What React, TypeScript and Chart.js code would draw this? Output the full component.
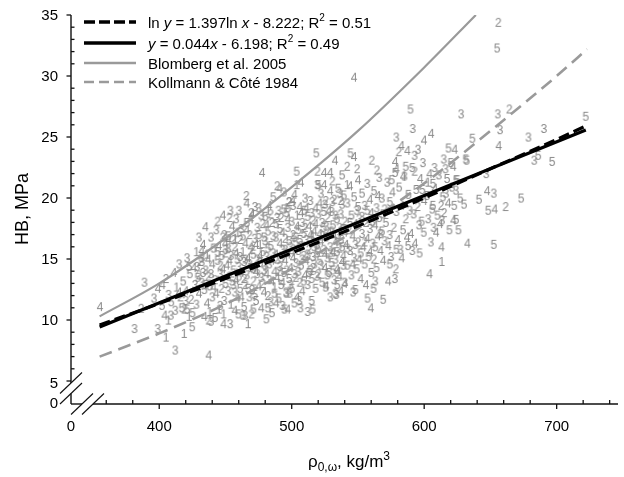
import React, { useEffect, useRef } from 'react';
import { Chart, registerables } from 'chart.js';
Chart.register(...registerables);

// axis ranges (the left/bottom ends are the broken-axis origins labelled "0")
const X_MIN = 333.4;
const X_MAX = 746.3;
const Y_MIN = 3.115;
const Y_MAX = 35;

const xMajorTicks = [400, 500, 600, 700];
const xMinorTicks = [360, 380, 420, 440, 460, 480, 520, 540, 560, 580, 620, 640, 660, 680, 720, 740];
const yMajorTicks = [5, 10, 15, 20, 25, 30, 35];
const yMinorTicks = [6, 7, 8, 9, 11, 12, 13, 14, 16, 17, 18, 19, 21, 22, 23, 24, 26, 27, 28, 29, 31, 32, 33, 34];

// fitted / literature curves
const powerFitX = [355, 400, 450, 500, 550, 600, 650, 700, 722];
const powerFitY = [9.6, 11.35, 13.4, 15.5, 17.7, 20.0, 22.4, 24.8, 25.9];
const linearFitX = [355, 722];
const linearFitY = [9.42, 25.57];
const blombergX = [355, 400, 450, 500, 550, 600, 639];
const blombergY = [10.3, 13.0, 16.7, 20.9, 25.5, 30.7, 35.0];
const kollmannX = [355, 400, 450, 500, 550, 600, 650, 700, 723];
const kollmannY = [7.0, 8.9, 11.3, 14.2, 17.5, 21.2, 25.5, 30.0, 32.2];

// measured samples: [density, hardness, sample class shown as digit]
const outlierSamples: [number, number, number][] = [
  [655.9, 34.4, 2], [655, 32.3, 5], [547, 29.9, 4],
  [589.6, 27.3, 5], [627.8, 26.9, 3], [655.5, 26.9, 3], [664.2, 27.3, 2], [721.9, 26.7, 5],
  [657.2, 25.6, 3], [591.3, 25.7, 3], [578.9, 25.0, 3], [605.2, 25.3, 4], [599.8, 24.75, 4], [636.3, 24.9, 5], [656.2, 24.3, 4], [678.6, 25.0, 3], [690.3, 25.7, 3],
  [618.3, 24.1, 5], [623, 24.0, 4], [614.7, 23.2, 3], [631.3, 23.2, 5], [632, 23.1, 5], [683, 23.1, 3], [686, 23.5, 5], [696.5, 23.0, 5], [646.8, 22.0, 3],
  [544.3, 23.7, 5], [547, 23.4, 4], [560.4, 23.1, 2], [579.1, 22.4, 4], [541.8, 22.6, 2], [564.2, 22.3, 2], [584.1, 21.8, 4], [592.7, 22.2, 2], [607.7, 22.5, 3], [621.9, 22.6, 4], [617.2, 21.6, 5], [625, 21.5, 5],
  [582.8, 24.3, 4], [580.8, 23.8, 2], [587.3, 23.9, 4], [595.3, 24.0, 3], [592.7, 23.5, 3], [549.3, 22.4, 2], [575.4, 21.5, 5], [602.7, 21.3, 1], [606.5, 21.2, 5], [598.5, 20.7, 5], [623.9, 20.65, 3], [616.4, 20.4, 3],
  [647.5, 20.6, 4], [652.5, 20.4, 3], [641.3, 19.9, 5], [648.3, 19.0, 5], [653.2, 19.1, 4], [661.4, 19.3, 2], [673.1, 20.0, 5], [627.1, 20.0, 5], [622.6, 19.4, 5], [630, 19.5, 5], [623.9, 18.25, 5], [606.5, 19.4, 5], [612.7, 19.4, 2],
  [632.6, 16.3, 4], [652.5, 16.2, 5], [613.2, 14.8, 1], [604, 13.8, 4], [596.5, 15.5, 5], [587.8, 16.1, 5], [578.5, 14.2, 2], [577.8, 13.4, 3], [572.8, 13.2, 4], [561.7, 12.6, 5], [557.2, 11.8, 5], [569, 11.7, 5], [559.7, 11.0, 4], [546.3, 12.3, 3], [579, 15.8, 5], [573.9, 17.0, 3], [625.8, 17.4, 5], [613.4, 18.2, 3], [599.6, 17.2, 5], [609, 17.2, 4],
  [533, 12.2, 3], [525.6, 12.7, 5], [534.3, 12.9, 5], [540, 13.0, 4], [533.6, 12.1, 3],
  [518.5, 23.7, 5], [532.6, 23.1, 4], [477.6, 22.1, 4], [503.7, 22.2, 5], [519.4, 22.2, 2], [524.4, 22.1, 4], [529, 22.1, 4], [530.6, 21.4, 2], [465.7, 20.2, 2], [490.8, 20.8, 4], [503.7, 21.1, 1], [519.4, 21.1, 3], [524.4, 21.1, 4], [453.7, 19.0, 3], [472.2, 19.3, 3], [469.4, 18.8, 2], [452.2, 16.6, 4], [457.2, 16.7, 1], [449.8, 15.5, 2],
  [482, 19.0, 1], [497, 19.2, 5], [509.5, 19.0, 5], [498, 19.7, 2], [500.7, 19.8, 4], [525.6, 19.8, 2], [530.6, 19.7, 3], [536.2, 20.4, 3], [539.2, 20.25, 5], [541.8, 21.1, 1], [538, 21.9, 5],
  [434.8, 17.65, 4], [429.9, 16.8, 3], [449.8, 16.3, 4], [422.4, 14.4, 5], [428.4, 14.4, 3], [432, 14.8, 3], [429.9, 13.7, 2], [432, 15.1, 3], [388.8, 13.1, 3], [402.4, 12.9, 4], [355.2, 11.1, 4], [386.3, 10.96, 2], [414.9, 12.3, 4], [419.9, 11.6, 3], [417, 11.0, 5], [421, 10.9, 5], [408.7, 10.4, 3], [406.8, 10.0, 1], [381.3, 9.3, 3], [398.8, 9.3, 3], [405, 8.6, 1], [418.7, 8.9, 1], [424.8, 9.45, 5], [412, 7.54, 3], [437.3, 7.13, 4], [422.4, 10.3, 1], [437.3, 10.0, 2], [448.5, 9.7, 4], [453.5, 9.7, 3], [448.5, 10.5, 1], [467, 9.7, 1], [464.7, 10.4, 3], [459.7, 10.5, 5], [469.6, 10.5, 2], [480.8, 10.1, 5], [482, 11.0, 5], [494.5, 10.9, 5], [506.5, 11.0, 3], [515.7, 10.9, 5], [488.3, 11.4, 4], [495.7, 12.3, 3], [498.3, 12.2, 3], [505.7, 11.6, 3],
];

const coreSamples: [number, number, number][] = [
  [396, 11.8, 3], [399, 12.6, 4], [402, 11.2, 5], [405, 13.4, 2], [407, 12.1, 3], [409, 11.5, 5], [411, 13.9, 4], [413, 12.7, 1], [415, 14.6, 3], [416, 11.9, 2], [418, 13.2, 5], [420, 12.4, 4], [421, 15.1, 3], [423, 13.8, 5], [424, 11.7, 2], [426, 14.3, 4], [427, 12.9, 3], [428, 15.6, 1], [429, 13.5, 5], [430, 12.2, 4], [412, 10.8, 3], [419, 10.9, 2], [425, 10.6, 5], [404, 10.4, 4], [428, 11.3, 3],
  [431, 14.8, 2], [432, 13.1, 3], [433, 16.2, 4], [434, 12.5, 5], [435, 14.1, 3], [436, 15.4, 1], [436, 11.4, 4], [437, 13.6, 2], [438, 12.8, 5], [439, 16.8, 3], [440, 14.6, 4], [440, 11.9, 3], [441, 15.9, 5], [442, 13.3, 2], [443, 12.2, 4], [443, 17.4, 3], [444, 14.9, 5], [445, 10.9, 1], [445, 16.1, 4], [446, 13.8, 3], [447, 12.6, 2], [447, 15.3, 5], [448, 14.2, 4], [449, 11.6, 3], [449, 17.0, 2], [450, 13.0, 5], [450, 15.8, 3], [434, 10.3, 4], [438, 10.7, 1], [442, 10.2, 5], [446, 11.2, 3], [432, 15.7, 4], [444, 18.1, 2], [448, 18.6, 4], [439, 9.9, 3],
  [451, 14.5, 4], [452, 12.4, 3], [452, 16.9, 5], [453, 13.6, 2], [454, 15.3, 3], [454, 11.3, 1], [455, 17.7, 4], [456, 14.1, 5], [456, 12.9, 3], [457, 16.0, 2], [458, 13.3, 4], [458, 18.3, 3], [459, 15.0, 5], [459, 11.8, 4], [460, 14.4, 3], [461, 16.6, 2], [461, 12.6, 5], [462, 13.9, 4], [462, 17.5, 3], [463, 15.6, 1], [464, 11.1, 5], [464, 14.8, 3], [465, 16.3, 4], [465, 12.9, 2], [466, 18.0, 5], [466, 13.7, 3], [467, 15.1, 4], [468, 11.9, 3], [468, 17.0, 2], [469, 14.3, 5], [469, 16.0, 4], [470, 12.5, 3], [470, 18.7, 4], [471, 15.4, 5], [471, 13.2, 2], [472, 16.7, 3], [473, 14.0, 4], [473, 11.6, 5], [474, 17.6, 3], [474, 15.0, 2], [475, 12.8, 4], [475, 19.2, 3], [476, 14.7, 5], [476, 16.2, 1], [477, 13.5, 3], [477, 11.0, 4], [478, 17.9, 2], [478, 15.6, 5], [479, 14.1, 3], [479, 12.3, 4], [480, 16.5, 3], [480, 18.5, 5], [457, 10.8, 4], [463, 10.4, 3], [471, 10.9, 5], [466, 19.6, 4], [453, 18.4, 2], [460, 19.0, 3],
  [481, 13.8, 4], [481, 15.2, 3], [482, 17.3, 5], [482, 12.0, 2], [483, 14.6, 3], [483, 19.4, 4], [484, 16.1, 5], [484, 11.5, 3], [485, 13.2, 4], [485, 18.0, 2], [486, 15.5, 3], [486, 20.1, 5], [487, 14.0, 4], [487, 12.7, 1], [488, 16.8, 3], [488, 17.9, 5], [489, 15.0, 2], [489, 13.5, 4], [490, 19.0, 3], [490, 11.8, 5], [491, 16.3, 4], [491, 14.4, 3], [492, 18.4, 2], [492, 12.9, 5], [493, 15.8, 3], [493, 17.2, 4], [494, 13.9, 5], [494, 20.5, 3], [495, 16.7, 2], [495, 14.9, 4], [496, 12.2, 3], [496, 18.8, 5], [497, 15.4, 4], [497, 17.6, 3], [498, 13.4, 5], [498, 19.7, 2], [499, 16.0, 3], [499, 14.3, 4], [500, 12.6, 5], [500, 18.1, 3], [501, 15.1, 4], [501, 17.0, 2], [502, 13.8, 3], [502, 20.3, 4], [503, 16.4, 5], [503, 14.7, 3], [504, 11.9, 4], [504, 18.6, 1], [505, 15.7, 3], [505, 17.4, 5], [506, 13.1, 2], [506, 19.3, 4], [507, 16.1, 3], [507, 14.5, 5], [508, 12.4, 4], [508, 18.0, 3], [509, 15.3, 2], [509, 17.1, 5], [510, 13.7, 4], [510, 20.0, 3], [485, 10.6, 5], [497, 10.9, 4], [489, 21.0, 2], [507, 21.3, 4], [493, 11.2, 3], [502, 11.4, 5],
  [511, 16.6, 3], [511, 14.9, 4], [512, 18.5, 5], [512, 12.9, 3], [513, 15.8, 2], [513, 17.7, 4], [514, 14.1, 5], [514, 19.8, 3], [515, 16.9, 4], [515, 13.4, 5], [516, 15.2, 3], [516, 18.2, 2], [517, 17.3, 4], [517, 14.6, 3], [518, 12.6, 5], [518, 19.2, 4], [519, 16.2, 3], [519, 15.5, 5], [520, 13.8, 2], [520, 18.7, 3], [521, 17.1, 4], [521, 14.9, 5], [522, 20.4, 3], [522, 16.5, 4], [523, 13.1, 5], [523, 18.0, 3], [524, 15.8, 2], [524, 17.6, 5], [525, 14.3, 4], [525, 19.5, 3], [526, 16.8, 5], [526, 12.8, 4], [527, 15.1, 3], [527, 18.4, 2], [528, 17.2, 4], [528, 13.9, 5], [529, 16.0, 3], [529, 20.6, 4], [530, 14.7, 5], [530, 18.9, 3], [531, 15.6, 4], [531, 17.8, 5], [532, 13.3, 3], [532, 19.9, 2], [533, 16.4, 4], [533, 15.0, 3], [534, 18.3, 5], [534, 14.2, 4], [535, 17.0, 3], [535, 20.8, 5], [536, 15.9, 2], [536, 13.6, 4], [537, 18.7, 3], [537, 16.6, 5], [538, 14.8, 4], [538, 19.5, 3], [539, 17.5, 5], [539, 15.3, 4], [540, 13.1, 3], [540, 18.1, 2], [515, 11.6, 5], [529, 11.9, 3], [537, 12.4, 4], [520, 21.1, 5], [512, 10.7, 3],
  [541, 16.2, 4], [542, 19.6, 3], [542, 14.5, 5], [543, 17.4, 2], [544, 15.7, 3], [544, 21.0, 4], [545, 18.6, 5], [545, 13.7, 3], [546, 16.9, 4], [547, 20.1, 5], [547, 15.1, 3], [548, 17.9, 4], [549, 14.2, 5], [549, 19.0, 3], [550, 16.4, 2], [550, 21.5, 4], [551, 18.3, 3], [552, 15.5, 5], [552, 13.4, 4], [553, 17.1, 3], [553, 20.4, 5], [554, 16.0, 4], [555, 19.4, 3], [555, 14.6, 5], [556, 18.0, 2], [557, 16.7, 4], [557, 21.2, 3], [558, 15.2, 5], [559, 19.9, 4], [559, 17.5, 3], [560, 13.9, 5], [560, 18.8, 4], [561, 16.3, 3], [562, 20.6, 5], [562, 15.0, 2], [563, 17.8, 4], [564, 19.2, 3], [564, 14.3, 5], [565, 16.9, 4], [566, 21.7, 3], [566, 18.4, 5], [567, 15.7, 4], [568, 20.0, 3], [568, 17.3, 5], [569, 14.9, 4], [570, 19.1, 2], [570, 16.5, 3], [548, 12.5, 5], [556, 12.9, 4], [563, 13.2, 3],
  [571, 18.0, 5], [572, 21.3, 3], [573, 16.1, 4], [574, 19.7, 5], [575, 15.2, 3], [576, 20.5, 4], [577, 17.6, 2], [578, 22.1, 5], [579, 18.9, 3], [580, 16.6, 4], [581, 20.9, 5], [582, 15.8, 3], [583, 19.4, 4], [584, 17.4, 5], [585, 21.8, 3], [586, 18.3, 2], [587, 16.8, 4], [588, 20.3, 5], [589, 19.0, 3], [590, 17.1, 4], [591, 22.5, 5], [592, 18.7, 3], [593, 16.3, 4], [594, 20.7, 5], [595, 19.3, 2], [596, 17.8, 3], [597, 21.6, 4], [598, 18.1, 5], [599, 22.9, 3], [600, 19.8, 4], [574, 14.6, 5], [583, 15.1, 4], [591, 15.7, 3], [578, 23.0, 4], [586, 22.6, 5],
  [602, 20.2, 5], [603, 18.3, 3], [604, 22.0, 4], [606, 19.1, 5], [607, 17.6, 3], [608, 20.8, 4], [610, 18.6, 5], [611, 21.9, 3], [612, 17.9, 4], [614, 20.1, 5], [615, 18.8, 2], [616, 22.4, 3], [618, 19.6, 4], [619, 17.4, 5], [621, 20.9, 3], [622, 18.2, 4], [624, 21.5, 5], [605, 16.4, 3], [613, 16.0, 4], [620, 22.9, 5],
];

const denseSamples: [number, number, number][] = [
  [452, 15.9, 3], [453, 14.9, 4], [455, 13.2, 5], [456, 16.6, 2], [457, 12.3, 3], [458, 15.5, 4], [459, 17.2, 1], [460, 13.6, 5], [461, 15.2, 3], [462, 11.9, 4], [463, 16.9, 5], [464, 13.4, 2], [465, 15.0, 3], [466, 17.4, 4], [467, 12.6, 5], [468, 14.6, 3], [469, 18.3, 4], [470, 15.8, 2], [471, 14.2, 3], [472, 12.1, 5], [473, 16.2, 4], [474, 13.8, 3], [475, 17.0, 5], [476, 15.3, 4], [477, 18.6, 3], [478, 13.0, 2], [479, 16.8, 5], [480, 14.5, 3],
  [481, 17.8, 4], [482, 15.9, 5], [483, 13.3, 3], [484, 18.7, 2], [485, 14.9, 4], [486, 16.9, 3], [487, 12.2, 5], [488, 15.4, 4], [489, 18.4, 3], [490, 14.0, 2], [491, 17.5, 5], [492, 15.1, 3], [493, 13.1, 4], [494, 19.1, 5], [495, 15.8, 3], [496, 14.1, 2], [497, 18.3, 4], [498, 16.5, 5], [499, 12.9, 3], [500, 15.6, 4], [501, 19.4, 3], [502, 16.8, 5], [503, 13.5, 2], [504, 17.7, 4], [505, 14.0, 3], [506, 16.6, 5], [507, 18.8, 4], [508, 15.0, 3], [509, 13.2, 5], [510, 17.6, 2],
  [511, 19.2, 4], [512, 15.4, 3], [513, 13.9, 5], [514, 17.0, 4], [515, 18.8, 3], [516, 14.3, 2], [517, 16.0, 5], [518, 17.9, 4], [519, 13.6, 3], [520, 15.9, 5], [521, 19.6, 4], [522, 14.5, 3], [523, 16.9, 2], [524, 18.9, 5], [525, 15.4, 4], [526, 17.7, 3], [527, 13.7, 5], [528, 19.0, 4], [529, 15.5, 3], [530, 17.3, 2], [531, 14.1, 5], [532, 16.9, 4], [533, 18.6, 3], [534, 15.6, 5], [535, 14.0, 4], [536, 17.6, 3], [537, 19.8, 2], [538, 16.0, 5], [539, 14.5, 3], [540, 17.2, 4],
  [542, 15.9, 3], [544, 18.0, 5], [546, 14.6, 4], [548, 16.2, 3], [550, 19.3, 5], [551, 15.0, 4], [553, 18.5, 3], [555, 16.4, 2], [557, 19.0, 5], [559, 15.6, 4], [561, 18.1, 3], [563, 16.0, 5], [565, 20.2, 4], [567, 17.1, 3], [569, 18.7, 5],
  [439, 13.8, 3], [441, 12.7, 4], [444, 15.6, 5], [446, 14.5, 2], [448, 16.8, 3], [435, 12.9, 5], [437, 15.0, 4], [433, 13.9, 3],
];

const sampleClasses = [1, 2, 3, 4, 5];

const FONT = '"Liberation Sans", Arial, sans-serif';
const GREY_LINE = '#9a9a9a';
const DIGIT_COLOR = '#8a8a8a';

function makeDigit(d: number): HTMLCanvasElement {
  const c = document.createElement('canvas');
  c.width = 10;
  c.height = 13;
  const g = c.getContext('2d')!;
  g.fillStyle = DIGIT_COLOR;
  g.font = `12px ${FONT}`;
  g.textAlign = 'center';
  g.textBaseline = 'alphabetic';
  g.fillText(String(d), 5, 11);
  return c;
}

type Part = { t: string; it?: boolean; sup?: boolean; sub?: boolean };

function drawRich(ctx: CanvasRenderingContext2D, x: number, y: number, parts: Part[], size: number, measureOnly = false): number {
  let cx = x;
  for (const p of parts) {
    const s = p.sup || p.sub ? Math.round(size * 0.68) : size;
    ctx.font = `${p.it ? 'italic ' : ''}${s}px ${FONT}`;
    const dy = p.sup ? -size * 0.42 : p.sub ? size * 0.25 : 0;
    if (!measureOnly) ctx.fillText(p.t, cx, y + dy);
    cx += ctx.measureText(p.t).width;
  }
  return cx - x;
}

const axisPlugin = {
  id: 'brokenAxes',
  afterDraw(chart: any) {
    const ctx: CanvasRenderingContext2D = chart.ctx;
    const xs = chart.scales.x;
    const ys = chart.scales.y;
    const X = (v: number) => xs.getPixelForValue(v);
    const Y = (v: number) => ys.getPixelForValue(v);
    const ax = X(X_MIN);
    const ay = Y(Y_MIN);
    const seg = (x1: number, y1: number, x2: number, y2: number) => {
      ctx.beginPath();
      ctx.moveTo(x1, y1);
      ctx.lineTo(x2, y2);
      ctx.stroke();
    };
    ctx.save();
    ctx.strokeStyle = '#111';
    ctx.lineWidth = 1.4;
    ctx.setLineDash([]);
    // y axis with break
    const yb1 = ay - 21;
    const yb2 = ay - 10.5;
    seg(ax, Y(Y_MAX), ax, yb1);
    seg(ax, yb2, ax, ay);
    // x axis with break
    const xb1 = ax + 11;
    const xb2 = ax + 22;
    seg(ax, ay, xb1, ay);
    seg(xb2, ay, xs.right, ay);
    ctx.lineWidth = 1.1;
    // break marks
    for (const cy of [yb1, yb2]) seg(ax - 11, cy + 10.5, ax + 11, cy - 10.5);
    for (const cx of [xb1, xb2]) seg(cx - 11, ay + 10.5, cx + 11, ay - 10.5);
    ctx.lineWidth = 1.3;
    // ticks
    for (const v of yMajorTicks) seg(ax - 4.5, Y(v), ax, Y(v));
    for (const v of yMinorTicks) seg(ax, Y(v), ax + 3.5, Y(v));
    for (const v of xMajorTicks) seg(X(v), ay, X(v), ay + 5);
    for (const v of xMinorTicks) seg(X(v), ay, X(v), ay - 4);
    // tick labels
    ctx.fillStyle = '#000';
    ctx.font = `15px ${FONT}`;
    ctx.textAlign = 'right';
    ctx.textBaseline = 'alphabetic';
    for (const v of yMajorTicks) {
      const off = v === 5 ? 2 : 0;
      ctx.fillText(String(v), ax - 13, Y(v) + 5.3 + off);
    }
    ctx.fillText('0', ax - 13, ay + 3.5);
    ctx.textAlign = 'center';
    for (const v of xMajorTicks) ctx.fillText(String(v), X(v), ay + 26.5);
    ctx.fillText('0', ax, ay + 26.5);
    // axis titles
    ctx.textAlign = 'left';
    const titleParts: Part[] = [{ t: 'ρ' }, { t: '0,ω', sub: true }, { t: ', kg/m' }, { t: '3', sup: true }];
    const w = drawRich(ctx, 0, 0, titleParts, 17, true);
    drawRich(ctx, 349 - w / 2, 467, titleParts, 17);
    ctx.save();
    ctx.translate(23, 209);
    ctx.rotate(-Math.PI / 2);
    ctx.textAlign = 'center';
    ctx.textBaseline = 'middle';
    ctx.font = `18px ${FONT}`;
    ctx.fillText('HB, MPa', 0, 0);
    ctx.restore();
    // legend
    const rows: { color: string; width: number; dash: number[]; parts: Part[] }[] = [
      { color: '#000', width: 3.5, dash: [11, 4], parts: [{ t: 'ln ' }, { t: 'y', it: true }, { t: ' = 1.397ln ' }, { t: 'x', it: true }, { t: ' - 8.222; R' }, { t: '2', sup: true }, { t: ' = 0.51' }] },
      { color: '#000', width: 3.5, dash: [], parts: [{ t: 'y', it: true }, { t: ' = 0.044' }, { t: 'x', it: true }, { t: ' - 6.198; R' }, { t: '2', sup: true }, { t: ' = 0.49' }] },
      { color: GREY_LINE, width: 2.5, dash: [], parts: [{ t: 'Blomberg et al. 2005' }] },
      { color: GREY_LINE, width: 2.5, dash: [10, 5], parts: [{ t: 'Kollmann & Côté 1984' }] },
    ];
    const rowY = [22, 43, 63, 82];
    rows.forEach((r, i) => {
      ctx.strokeStyle = r.color;
      ctx.lineWidth = r.width;
      ctx.setLineDash(r.dash);
      seg(84, rowY[i], 136, rowY[i]);
      ctx.setLineDash([]);
      ctx.fillStyle = '#000';
      ctx.textAlign = 'left';
      ctx.textBaseline = 'alphabetic';
      drawRich(ctx, 148, rowY[i] + 5.5, r.parts, 15);
    });
    ctx.restore();
  },
};

export default function App() {
  const ref = useRef<HTMLCanvasElement | null>(null);
  useEffect(() => {
    if (!ref.current) return;
    const toXY = (xs: number[], ys: number[]) => xs.map((x, i) => ({ x, y: ys[i] }));
    const all = [...outlierSamples, ...coreSamples, ...denseSamples];
    const digitSets = sampleClasses.map((d) => ({
      label: `class ${d}`,
      data: all.filter((s) => s[2] === d).map((s) => ({ x: s[0], y: s[1] })),
      pointStyle: makeDigit(d) as any,
      pointRadius: 5,
      showLine: false,
      order: 2,
      clip: false as any,
    }));
    const lineBase = { showLine: true, pointRadius: 0, fill: false, cubicInterpolationMode: 'monotone' as const, order: 0 };
    const chart = new Chart(ref.current, {
      type: 'scatter',
      data: {
        datasets: [
          { ...lineBase, label: 'power', data: toXY(powerFitX, powerFitY), borderColor: '#000', borderWidth: 3.2, borderDash: [11, 5] },
          { ...lineBase, label: 'linear', data: toXY(linearFitX, linearFitY), borderColor: '#000', borderWidth: 3.2 },
          { ...lineBase, label: 'Blomberg et al. 2005', data: toXY(blombergX, blombergY), borderColor: GREY_LINE, borderWidth: 2.2, order: 1 },
          { ...lineBase, label: 'Kollmann & Côté 1984', data: toXY(kollmannX, kollmannY), borderColor: GREY_LINE, borderWidth: 2.6, borderDash: [13, 7], order: 1 },
          ...digitSets,
        ] as any,
      },
      options: {
        animation: false,
        responsive: false,
        devicePixelRatio: 1,
        events: [],
        layout: { padding: { left: 71, right: 0, top: 15, bottom: 73 } },
        scales: {
          x: { type: 'linear', min: X_MIN, max: X_MAX, display: false },
          y: { type: 'linear', min: Y_MIN, max: Y_MAX, display: false },
        },
        plugins: { legend: { display: false }, tooltip: { enabled: false } },
      },
      plugins: [axisPlugin],
    });
    return () => chart.destroy();
  }, []);
  return (
    <div style={{ position: 'fixed', left: 0, top: 0, width: 624, height: 477, background: '#fff' }}>
      <canvas ref={ref} width={624} height={477} style={{ width: 624, height: 477, display: 'block' }} />
    </div>
  );
}
